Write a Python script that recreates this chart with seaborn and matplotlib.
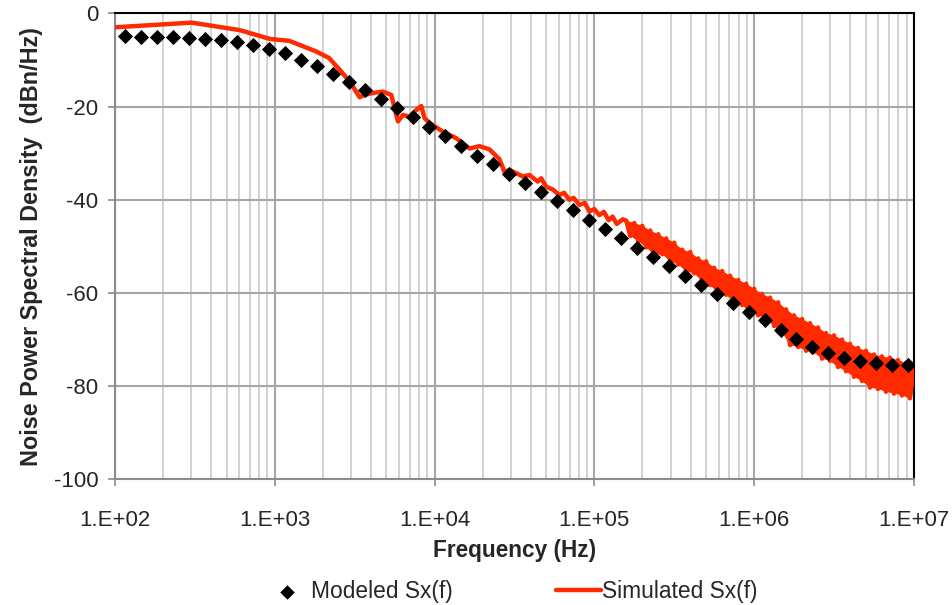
import numpy as np
import pandas as pd
import seaborn as sns
import matplotlib.pyplot as plt
from matplotlib.ticker import LogLocator, NullFormatter, FixedLocator

# Modeled Sx(f): 50 points, 0.1 decade apart
model_logf = np.round(np.arange(50) * 0.1 + 2.065, 3)
model_db = [-4.85, -5.0, -5.0, -5.1, -5.2, -5.5, -5.7, -6.1, -6.85, -7.7,
            -8.6, -10.0, -11.4, -13.0, -14.7, -16.4, -18.4, -20.4, -22.3, -24.3,
            -26.3, -28.4, -30.6, -32.4, -34.5, -36.3, -38.3, -40.3, -42.3, -44.3,
            -46.3, -48.3, -50.3, -52.3, -54.3, -56.3, -58.3, -60.3, -62.2, -64.1,
            -65.9, -67.9, -69.8, -71.5, -72.9, -74.0, -74.7, -75.1, -75.4, -75.5]

# Simulated Sx(f), low frequency part (read point by point)
sim_logf_lo = [2.00, 2.48, 2.78, 2.97, 3.09, 3.26, 3.34, 3.406, 3.45, 3.489,
               3.531, 3.5625, 3.614, 3.677, 3.729, 3.771, 3.802, 3.844, 3.886, 3.917,
               3.9375, 3.969, 4.052, 4.136, 4.219, 4.281, 4.344, 4.406, 4.4375, 4.47,
               4.511, 4.552, 4.594, 4.646, 4.667, 4.698, 4.74, 4.781, 4.81, 4.844,
               4.87, 4.906, 4.94, 4.969, 5.00, 5.031, 5.06, 5.09, 5.114, 5.14, 5.177]
sim_db_lo = [-3.0, -2.0, -3.6, -5.5, -5.9, -8.2, -9.6, -12.1, -13.9, -15.7,
             -18.0, -17.5, -17.1, -16.8, -17.5, -23.2, -21.8, -22.2, -20.7, -19.9,
             -22.5, -23.5, -25.4, -26.8, -29.0, -28.5, -29.2, -31.3, -34.0, -33.6,
             -34.3, -35.0, -34.7, -36.1, -35.4, -37.2, -37.8, -39.0, -38.5, -40.0,
             -39.6, -41.1, -40.7, -42.5, -42.0, -43.3, -42.6, -44.4, -43.6, -45.2, -44.2]

# Simulated Sx(f), noisy high frequency part, 0.025 decade apart from 1.6E+05
sim_db_hi = [-44.5, -47.8, -45.0, -48.9, -45.6, -50.2, -46.6, -51.9, -47.4, -51.7,
             -48.3, -53.2, -49.2, -53.9, -50.7, -55.4, -51.2, -55.8, -52.6, -57.5,
             -53.2, -58.3, -54.6, -60.1, -55.3, -60.4, -56.3, -61.9, -57.2, -62.6,
             -58.0, -64.2, -59.1, -64.8, -60.2, -65.6, -61.0, -67.1, -62.0, -68.4,
             -63.5, -71.2, -64.8, -71.6, -65.6, -72.4, -66.5, -72.7, -67.4, -74.1,
             -68.6, -74.6, -69.1, -75.9, -70.0, -76.8, -70.9, -78.0, -71.8, -78.9,
             -72.4, -80.3, -73.2, -80.6, -73.6, -81.2, -73.9, -81.6, -74.4, -82.0,
             -75.0, -82.6, -76.0]
sim_logf_hi = np.round(np.arange(len(sim_db_hi)) * 0.025 + 5.2, 3)

model = pd.DataFrame({"f": 10 ** model_logf, "db": model_db})
sim = pd.DataFrame({"f": 10 ** np.concatenate([sim_logf_lo, sim_logf_hi]),
                    "db": np.concatenate([sim_db_lo, sim_db_hi])})

sns.set_style("white")
plt.rcParams["font.family"] = ["Liberation Sans", "DejaVu Sans"]
plt.rcParams["axes.unicode_minus"] = False

red = "#ff2a00"
fig = plt.figure(figsize=(9.52, 6.05), dpi=100)
ax = fig.add_axes([0.1208, 0.2076, 0.8392, 0.7704])

# solid body of the noisy band: peaks forward, troughs back
hi_f = 10 ** sim_logf_hi
peaks = np.array(sim_db_hi[0::2])
troughs = np.array(sim_db_hi[1::2])
ax.fill(np.concatenate([hi_f[0::2], hi_f[1::2][::-1]]),
        np.concatenate([peaks, troughs[::-1]]), color=red, lw=0, zorder=3)

sns.lineplot(data=sim, x="f", y="db", ax=ax, color=red, lw=3.2,
             sort=False, label="Simulated Sx(f)", zorder=3)
sns.scatterplot(data=model, x="f", y="db", ax=ax, color="black", marker="D",
                s=60, linewidth=0, label="Modeled Sx(f)", zorder=4)

ax.set_xscale("log")
ax.set_xlim(1e2, 1e7)
ax.set_ylim(-100, 0)
ax.yaxis.set_major_locator(FixedLocator([-100, -80, -60, -40, -20, 0]))
ax.xaxis.set_major_locator(FixedLocator([1e2, 1e3, 1e4, 1e5, 1e6, 1e7]))
ax.xaxis.set_minor_locator(LogLocator(base=10, subs=np.arange(2, 10), numticks=20))
ax.xaxis.set_minor_formatter(NullFormatter())
ax.set_xticklabels(["1.E+02", "1.E+03", "1.E+04", "1.E+05", "1.E+06", "1.E+07"])

ax.grid(which="major", color="#a6a6a6", lw=1.5)
ax.grid(which="minor", axis="x", color="#cfcfcf", lw=1.3)
ax.set_axisbelow(True)

for s in ["left", "bottom"]:
    ax.spines[s].set_color("#8c8c8c")
    ax.spines[s].set_linewidth(1.5)
for s in ["top", "right"]:
    ax.spines[s].set_color("black")
    ax.spines[s].set_linewidth(1.5)

ax.tick_params(axis="y", which="major", left=True, length=5, width=1.2,
               color="#8c8c8c", labelsize=16, pad=7)
ax.tick_params(axis="x", which="major", bottom=True, length=5, width=1.2,
               color="#8c8c8c", labelsize=16, pad=17)
ax.tick_params(axis="x", which="minor", bottom=False)

ax.set_xlabel("Frequency (Hz)", fontsize=16.3, fontweight="bold", labelpad=6)
ax.set_ylabel("Noise Power Spectral Density  (dBn/Hz)", fontsize=16.8,
              fontweight="bold", labelpad=8)

h, l = ax.get_legend_handles_labels()
ax.get_legend().remove()
fig.legend(h[::-1], l[::-1], loc="lower center", bbox_to_anchor=(0.537, -0.030),
           ncol=2, frameon=False, fontsize=16.4, handlelength=2.0,
           handletextpad=0.05, columnspacing=4.5, markerscale=0.95)

fig.savefig("out.png", dpi=100)
